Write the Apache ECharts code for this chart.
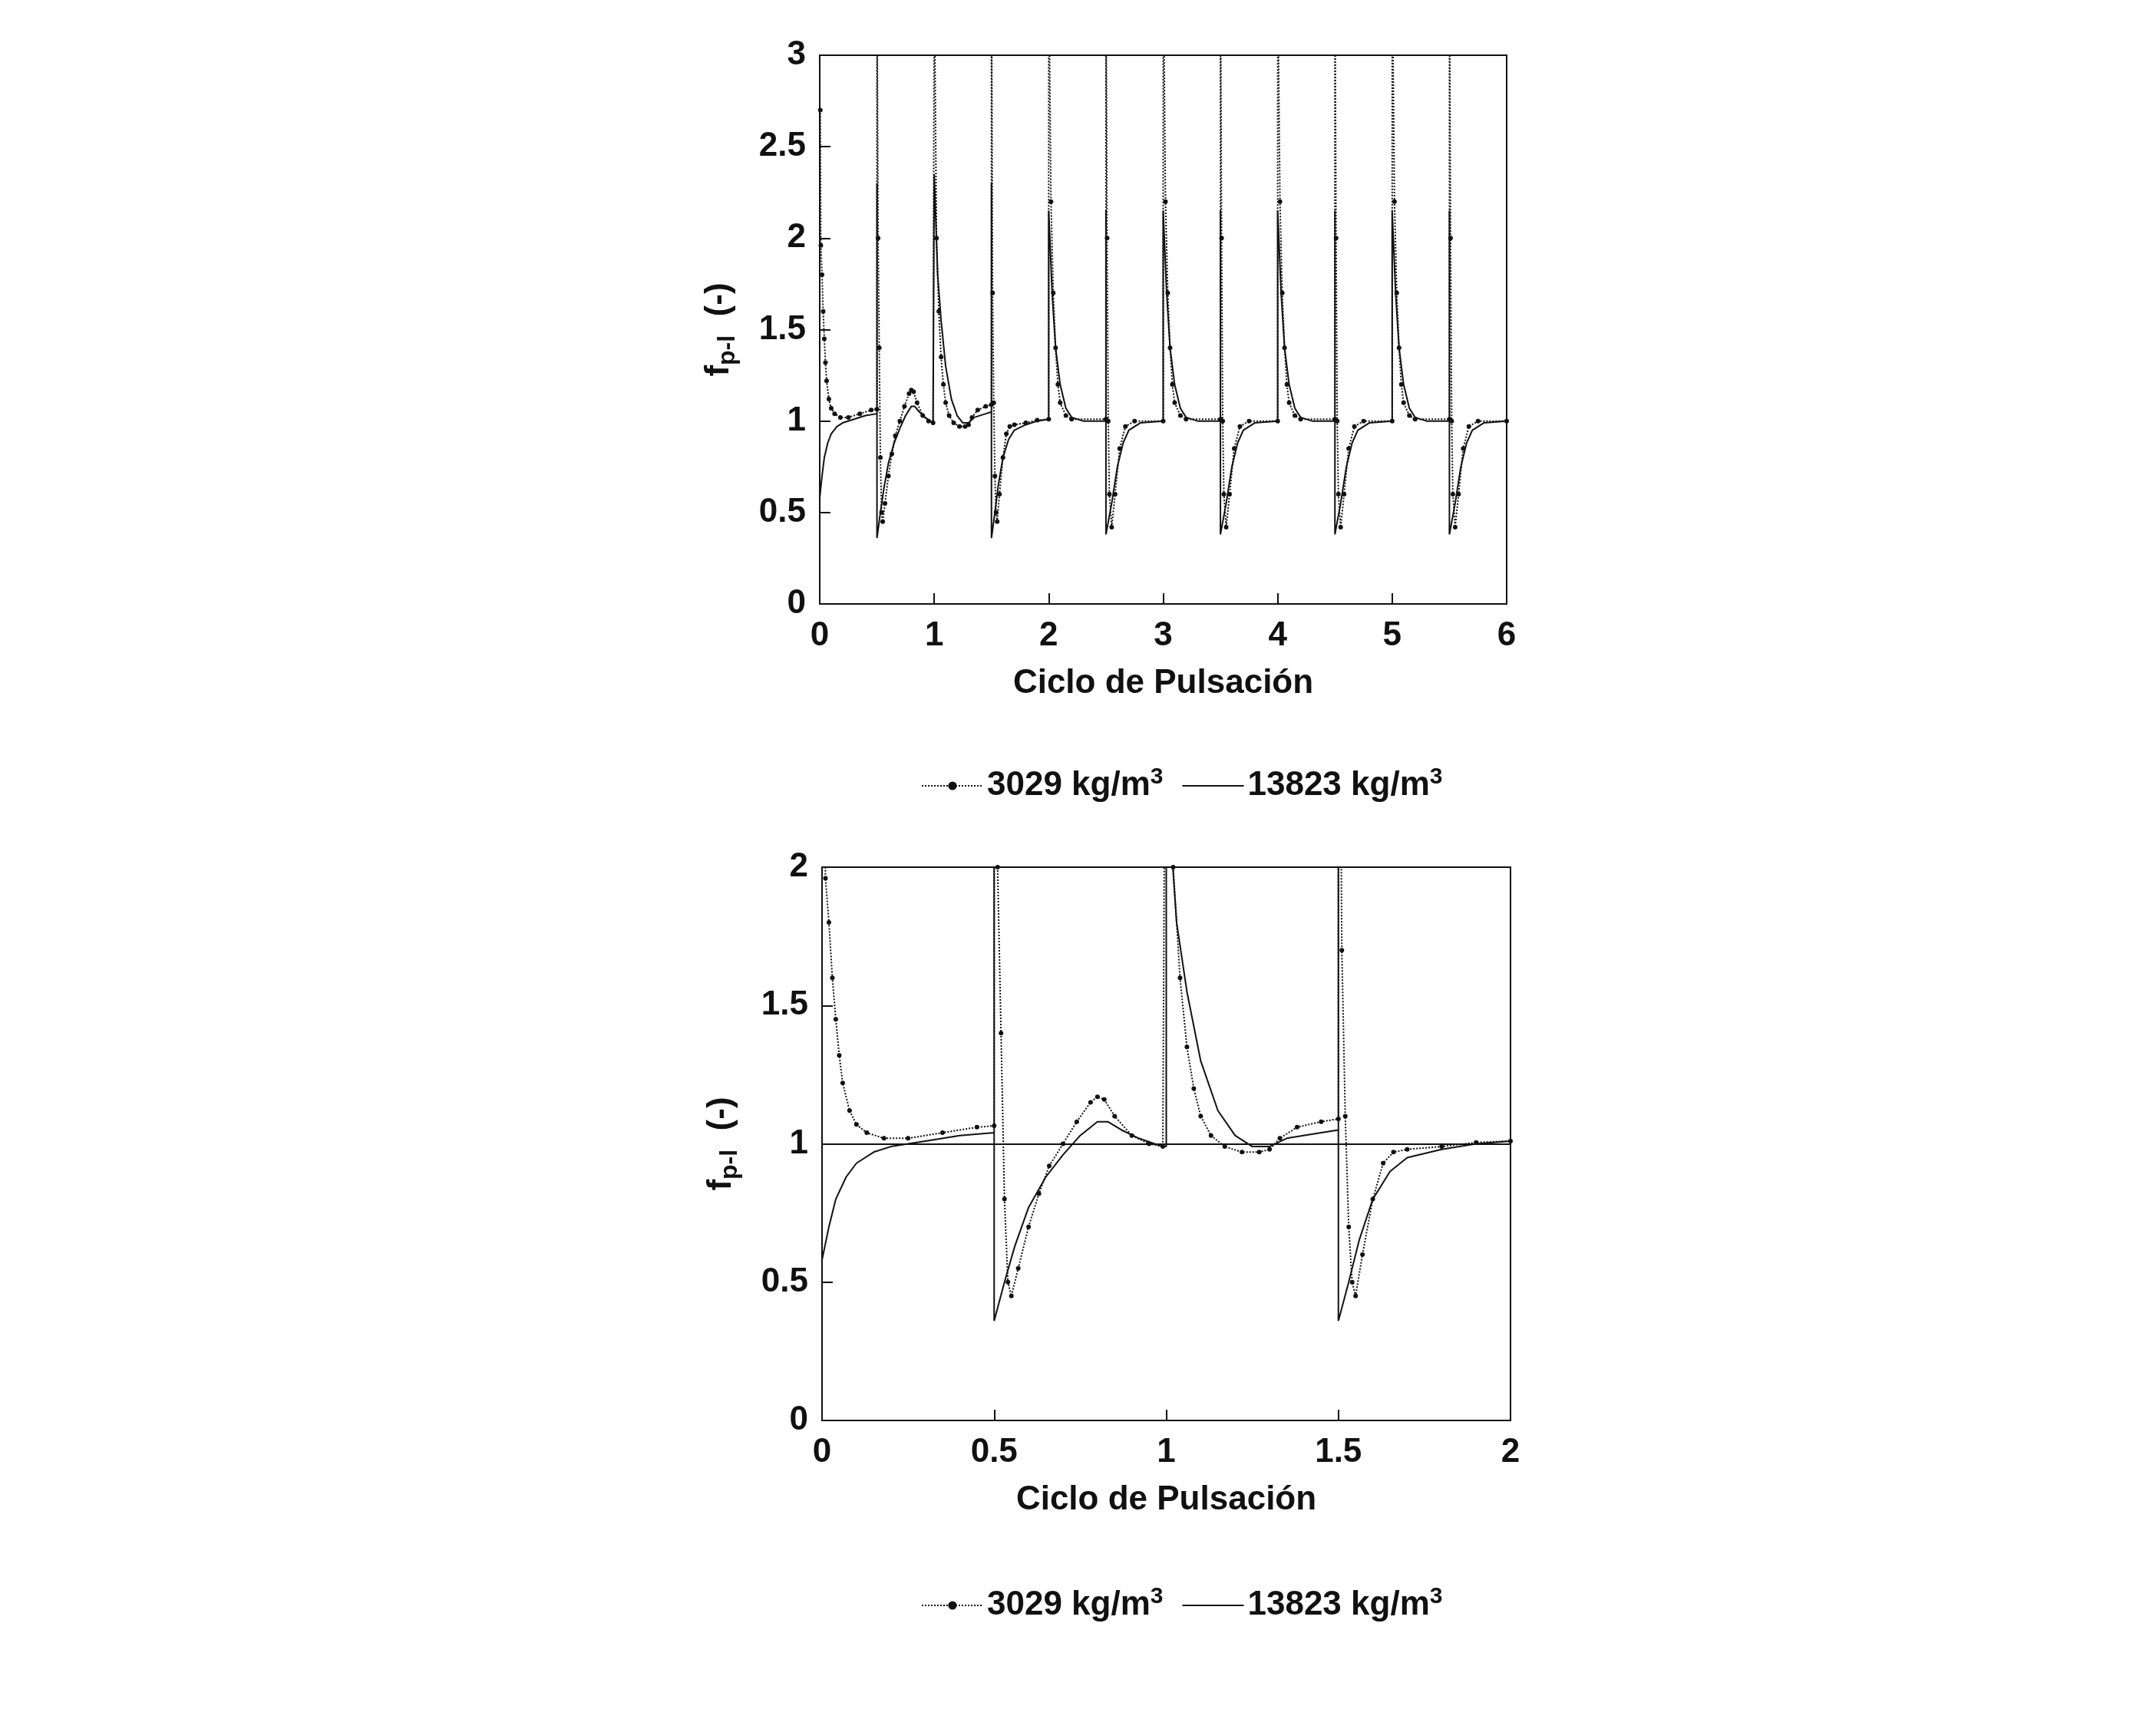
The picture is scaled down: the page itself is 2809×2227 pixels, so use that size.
<!DOCTYPE html>
<html>
<head>
<meta charset="utf-8">
<script src="https://cdn.jsdelivr.net/npm/echarts@6/dist/echarts.min.js"></script>
<style>html,body{margin:0;background:#fff}#c{width:2809px;height:2227px}</style>
</head>
<body>
<div id="c"></div>
<script>
// primeiros dois ciclos, [x, y]
const dot0a2 = [
  [0.005,2.7],[0.01,1.96],[0.02,1.8],[0.03,1.6],[0.04,1.45],[0.05,1.32],[0.06,1.22],[0.08,1.12],[0.1,1.07],
  [0.13,1.04],[0.18,1.02],[0.25,1.02],[0.35,1.04],[0.45,1.06],[0.5,1.065],
  [0.5,3.5],[0.51,2.0],[0.52,1.4],[0.53,0.8],[0.54,0.5],[0.55,0.45],[0.57,0.55],[0.6,0.7],[0.63,0.82],
  [0.66,0.92],[0.7,1.0],[0.74,1.08],[0.78,1.15],[0.8,1.17],[0.82,1.16],[0.85,1.1],[0.9,1.03],[0.95,1.0],[0.99,0.99],
  [1.0,3.5],[1.02,2.0],[1.04,1.6],[1.06,1.35],[1.08,1.2],[1.1,1.1],[1.13,1.03],[1.17,0.99],[1.22,0.97],
  [1.27,0.97],[1.3,0.98],[1.33,1.02],[1.38,1.06],[1.45,1.08],[1.5,1.09],
  [1.5,3.5],[1.51,1.7],[1.52,1.1],[1.53,0.7],[1.54,0.5],[1.55,0.45],[1.57,0.6],[1.6,0.8],[1.63,0.93],
  [1.66,0.97],[1.7,0.98],[1.8,0.99],[1.9,1.005],[2.0,1.01]
];
const sol0a2 = [
  [0,0.58],[0.02,0.7],[0.04,0.8],[0.07,0.88],[0.1,0.93],[0.15,0.97],[0.2,0.99],[0.3,1.01],[0.4,1.03],[0.5,1.04],
  [0.5,2.3],[0.5,0.36],[0.53,0.5],[0.56,0.63],[0.6,0.77],[0.65,0.88],[0.7,0.96],[0.75,1.03],[0.8,1.08],
  [0.83,1.08],[0.87,1.05],[0.92,1.02],[0.99,0.99],[1.0,0.99],
  [1.0,2.35],[1.03,1.8],[1.06,1.55],[1.1,1.3],[1.15,1.12],[1.2,1.03],[1.25,0.99],[1.3,0.99],[1.35,1.02],
  [1.45,1.04],[1.5,1.05],
  [1.5,2.3],[1.5,0.36],[1.53,0.5],[1.56,0.65],[1.6,0.8],[1.65,0.9],[1.7,0.95],[1.8,0.98],[1.9,1.0],[2.0,1.01]
];
// ciclo estabelecido (ciclos 2 a 6), x relativo ao início do ciclo
const dotCiclo = [
  [0,3.5],[0.02,2.2],[0.04,1.7],[0.06,1.4],[0.08,1.2],[0.1,1.1],[0.15,1.03],[0.2,1.01],[0.5,1.01],
  [0.5,3.5],[0.51,2.0],[0.52,1.0],[0.53,0.6],[0.55,0.42],[0.58,0.6],[0.62,0.85],[0.67,0.97],[0.75,1.0],[1.0,1.0]
];
const solCiclo = [
  [0,1.0],[0,2.15],[0.03,1.7],[0.06,1.4],[0.1,1.2],[0.15,1.07],[0.2,1.02],[0.3,1.0],[0.5,1.0],
  [0.5,2.15],[0.5,0.38],[0.55,0.55],[0.6,0.75],[0.65,0.88],[0.7,0.95],[0.8,0.99],[1.0,1.0]
];
const ciclos = [2, 3, 4, 5];
const nomes = ['3029 kg/m3', '13823 kg/m3'];

function montar(base, ciclo) {
  let out = base.slice();
  ciclos.forEach(n => ciclo.forEach(p => out.push([n + p[0], p[1]])));
  return out;
}
const dotTopo = montar(dot0a2, dotCiclo);
const solTopo = montar(sol0a2, solCiclo);

const fonte = "'Liberation Sans Narrow','Arial Narrow','Liberation Sans',sans-serif";
const txt = { fontFamily: fonte, fontWeight: 'bold', fontSize: 44, color: '#111' };

const chart = echarts.init(document.getElementById('c'));

function eixoX(idx, max, interval) {
  return {
    gridIndex: idx, type: 'value', min: 0, max: max, interval: interval,
    name: 'Ciclo de Pulsación', nameLocation: 'middle', nameGap: 82, nameTextStyle: txt,
    axisLine: { show: false }, splitLine: { show: false },
    axisTick: { inside: true, length: 14, lineStyle: { color: '#111', width: 2 } },
    axisLabel: Object.assign({ margin: 20 }, txt)
  };
}
function eixoY(idx, max) {
  return {
    gridIndex: idx, type: 'value', min: 0, max: max, interval: 0.5,
    name: '{f|f}{s|p-l}{f|  (-)}', nameLocation: 'middle', nameGap: 104, nameRotate: 90,
    nameTextStyle: { rich: { f: txt, s: Object.assign({}, txt, { fontSize: 32, padding: [22, 0, 0, 0] }) } },
    axisLine: { show: false }, splitLine: { show: false },
    axisTick: { inside: true, length: 14, lineStyle: { color: '#111', width: 2 } },
    axisLabel: Object.assign({ margin: 18 }, txt)
  };
}
function legenda(top) {
  return {
    top: top, left: 1195, itemWidth: 80, itemHeight: 14, itemGap: 24,
    data: [
      { name: nomes[0] },
      { name: nomes[1], itemStyle: { opacity: 0 } }
    ],
    formatter: n => n.replace('kg/m3', '{t|kg/m}{u|3}'),
    textStyle: Object.assign({}, txt, {
      rich: { t: txt, u: Object.assign({}, txt, { fontSize: 30, padding: [0, 0, 22, 0] }) }
    })
  };
}
function serDot(idx, data) {
  return {
    name: nomes[0], type: 'line', xAxisIndex: idx, yAxisIndex: idx, data: data,
    symbol: 'circle', symbolSize: 6, itemStyle: { color: '#111' },
    lineStyle: { color: '#111', width: 2, type: 'dotted' }, clip: true, animation: false
  };
}
function serSol(idx, data) {
  return {
    name: nomes[1], type: 'line', xAxisIndex: idx, yAxisIndex: idx, data: data,
    symbol: 'none', itemStyle: { color: '#111' },
    lineStyle: { color: '#111', width: 2 }, clip: true, animation: false
  };
}

chart.setOption({
  backgroundColor: '#fff',
  grid: [
    { left: 1068, width: 895, top: 72, height: 715, show: true, borderColor: '#111', borderWidth: 2 },
    { left: 1071, width: 897, top: 1130, height: 721, show: true, borderColor: '#111', borderWidth: 2 }
  ],
  legend: [legenda(993), legenda(2061)],
  xAxis: [eixoX(0, 6, 1), eixoX(1, 2, 0.5)],
  yAxis: [eixoY(0, 3), eixoY(1, 2)],
  series: [
    serDot(0, dotTopo), serSol(0, solTopo),
    serDot(1, dot0a2),
    Object.assign(serSol(1, sol0a2), {
      markLine: { silent: true, symbol: 'none', label: { show: false },
        lineStyle: { color: '#111', width: 2, type: 'solid' }, data: [{ yAxis: 1 }] }
    })
  ]
});
</script>
</body>
</html>
